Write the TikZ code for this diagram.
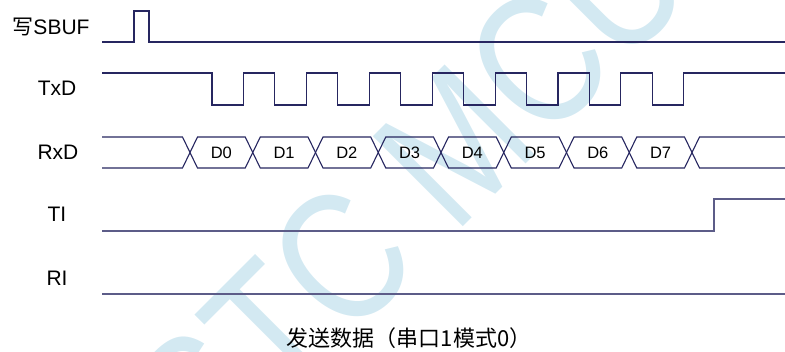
\documentclass[tikz,border=0pt]{standalone}
\usepackage{fontspec}
\setmainfont{Liberation Sans}
\newfontfamily\cjkfont{Noto Sans CJK SC}
\usetikzlibrary{positioning,calc}
\definecolor{Wave}{HTML}{262660}
\definecolor{Mark}{HTML}{D3E9F2}
\tikzset{wave/.style={Wave,line width=1.1pt,line join=miter},
  flag/.style={Wave!75,line width=1.6pt,line join=miter},
  sig/.style={font=\fontsize{21}{21}\selectfont,inner sep=0pt},
  bit/.style={font=\fontsize{16.5}{16.5}\selectfont,inner sep=0pt}}
\begin{document}
\begin{tikzpicture}[x=1pt,y=-1pt]
\useasboundingbox (0,0) rectangle (785,351);
\node[rotate=45,xscale=0.82,font=\fontsize{185}{185}\selectfont,text=Mark,inner sep=0pt] (mark) at (410,190) {STC MCU};
% signal names
\node[sig] (wsbuf) at (51,27) {{\cjkfont 写}SBUF};
\node[sig] (txd) at (57,88) {TxD};
\node[sig] (rxd) at (58,152) {RxD};
\node[sig] (ti) at (57,214) {TI};
\node[sig] (ri) at (57,278) {RI};
% write pulse
\draw[wave] (102,42) -- (134,42) -- (134,11) -- (149,11) -- (149,42) -- (785,42);
% shift clock
\draw[wave] (102,73) foreach \i in {0,...,7} {-- ({212+62.9*\i},73) -- ++(0,32) -- ++(31.5,0) -- ++(0,-32)} -- (785,73);
% data bits
\draw[wave] (102,137) -- (182.5,137) -- (190,152.5) -- (182.5,168) -- (102,168);
\foreach \k in {0,...,7} {
  \pgfmathsetmacro\ca{190+62.75*\k}
  \pgfmathsetmacro\cb{\ca+62.75}
  \draw[wave] (\ca,152.5) -- (\ca+7.5,137) -- (\cb-7.5,137) -- (\cb,152.5) -- (\cb-7.5,168) -- (\ca+7.5,168) -- cycle;
  \node[bit] (d\k) at ({(\ca+\cb)/2},152.5) {D\k};
}
\draw[wave] (785,137) -- (699.5,137) -- (692,152.5) -- (699.5,168) -- (785,168);
% flags
\draw[flag] (102,231) -- (714,231) -- (714,199) -- (785,199);
\draw[flag] (102,294) -- (785,294);
\node[font=\cjkfont\fontsize{22}{22}\selectfont] (cap) at (409,338) {发送数据（串口1模式0）};
\end{tikzpicture}
\end{document}
